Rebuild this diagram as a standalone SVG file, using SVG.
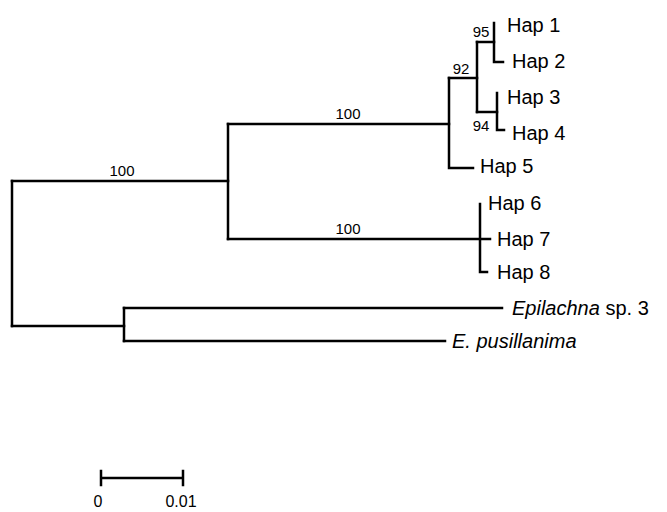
<svg xmlns="http://www.w3.org/2000/svg" width="667" height="512" viewBox="0 0 667 512">
<style>
.e{fill:none;stroke:#000;stroke-width:2.5;stroke-linecap:square}
.l{font-family:"Liberation Sans",Arial,sans-serif;font-size:20px;fill:#000}
.b{font-family:"Liberation Sans",Arial,sans-serif;font-size:15px;fill:#000;text-anchor:middle}
.s{font-size:16px}
.i{font-style:italic}
</style>
<rect width="667" height="512" fill="#fff"/>
<g id="connectors">
<path class="e" d="M12,181V326"/>
<path class="e" d="M12,181H228"/>
<path class="e" d="M12,326H124"/>
<path class="e" d="M228,124V239"/>
<path class="e" d="M228,124H449"/>
<path class="e" d="M228,239H490"/>
<path class="e" d="M449,78V168H473"/>
<path class="e" d="M449,78H477"/>
<path class="e" d="M477,42V112"/>
<path class="e" d="M477,42H494"/>
<path class="e" d="M494,23V62H503"/>
<path class="e" d="M477,112H497"/>
<path class="e" d="M497,93V130H504"/>
<path class="e" d="M480,204V272H487"/>
<path class="e" d="M124,308V341"/>
<path class="e" d="M124,308H502"/>
<path class="e" d="M124,341H445"/>
</g>
<g id="support">
<text class="b" x="122" y="176">100</text>
<text class="b" x="348" y="119">100</text>
<text class="b" x="348" y="234">100</text>
<text class="b" x="461" y="74">92</text>
<text class="b" x="481" y="37">95</text>
<text class="b" x="481" y="131">94</text>
</g>
<g id="hap1"><text class="l" x="507" y="32">Hap 1</text></g>
<g id="hap2"><text class="l" x="512" y="68">Hap 2</text></g>
<g id="hap3"><text class="l" x="507" y="104">Hap 3</text></g>
<g id="hap4"><text class="l" x="512" y="140">Hap 4</text></g>
<g id="hap5"><text class="l" x="480" y="173">Hap 5</text></g>
<g id="hap6"><text class="l" x="488" y="210">Hap 6</text></g>
<g id="hap7"><text class="l" x="497" y="246">Hap 7</text></g>
<g id="hap8"><text class="l" x="497" y="279">Hap 8</text></g>
<g id="epilachna"><text class="l" x="512" y="315"><tspan class="i">Epilachna</tspan> sp. 3</text></g>
<g id="pusillanima"><text class="l i" x="452" y="348">E. pusillanima</text></g>
<g id="scalebar">
<path class="e" d="M101,478H183M101,471V485M183,471V485"/>
<text class="b s" x="98" y="507">0</text>
<text class="b s" x="181" y="507">0.01</text>
</g>
</svg>
